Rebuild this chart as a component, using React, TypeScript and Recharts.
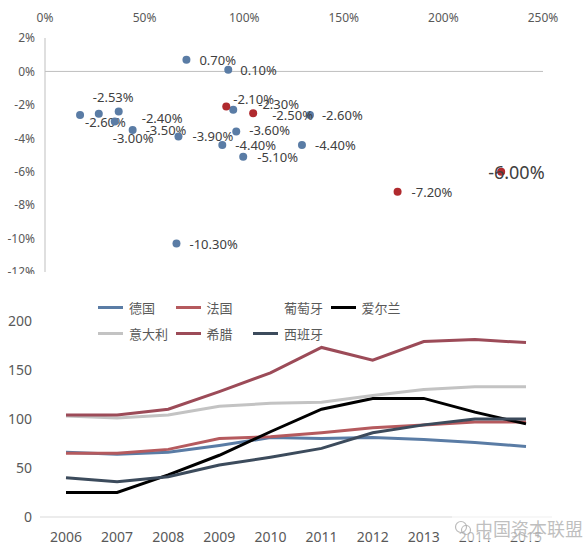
import * as React from 'react';
import {
  ScatterChart, Scatter, XAxis, YAxis, ReferenceLine,
  LineChart, Line,
} from 'recharts';

// scatter: x = share (%), y = value (%)
const blueX = [71, 92, 17.6, 27, 37, 35, 44, 67, 89, 96, 99.5, 94.5, 133, 129, 66];
const blueY = [0.7, 0.1, -2.6, -2.53, -2.4, -3.0, -3.5, -3.9, -4.4, -3.6, -5.1, -2.3, -2.6, -4.4, -10.3];
const redX = [91, 104.5, 177, 229];
const redY = [-2.1, -2.5, -7.2, -6.0];

const xTicks = [0, 50, 100, 150, 200, 250];
const yTicks = [2, 0, -2, -4, -6, -8, -10, -12];

// line chart
const years = ['2006', '2007', '2008', '2009', '2010', '2011', '2012', '2013', '2014', '2015'];
const germany = [66, 64, 66, 73, 81, 80, 81, 79, 76, 72];
const france = [65, 65, 69, 80, 82, 86, 91, 94, 97, 97];
const ireland = [25, 25, 43, 63, 87, 110, 121, 121, 107, 95];
const italy = [103, 101, 104, 113, 116, 117, 124, 130, 133, 133];
const greece = [104, 104, 110, 128, 147, 173, 160, 179, 181, 178];
const spain = [40, 36, 41, 53, 61, 70, 86, 94, 100, 100];
const lineTicks = [0, 50, 100, 150, 200];

const seriesNames = ['德国', '法国', '葡萄牙', '爱尔兰', '意大利', '希腊', '西班牙'];
const seriesColors = ['#5a7ca5', '#b55a5e', 'none', '#000000', '#c3c3c3', '#9c4b58', '#3c4b5c'];

// label nudges [dx, dy] relative to the dot
const blueNudge = [[13, 0], [12, 0], [5, 7], [-6, -17], [23, 6], [-2, 16], [13, 0], [14, -1], [13, 0], [13, -2], [14, 0], [25, -6], [12, 0], [13, 0], [13, 0]];
const redNudge = [[7, -8], [19, 2], [14, 0], [-13, 0]];

const blueData = blueX.map((x, i) => ({ x, y: blueY[i] }));
const redData = redX.map((x, i) => ({ x, y: redY[i] }));
const lineData = years.map((year, i) => ({
  year,
  德国: germany[i],
  法国: france[i],
  爱尔兰: ireland[i],
  意大利: italy[i],
  希腊: greece[i],
  西班牙: spain[i],
}));

const font = '"Noto Sans", "Noto Sans CJK SC", sans-serif';

function makeDot(color: string, nudge: number[][]) {
  return (props: any) => {
    const { cx, cy, index, payload } = props;
    const [dx, dy] = nudge[index] || [10, 0];
    const big = payload.y === -6;
    return (
      <g>
        <circle cx={cx} cy={cy} r={4} fill={color} />
        <text
          x={cx + dx}
          y={cy + dy}
          dominantBaseline="central"
          fontSize={big ? 18 : 13}
          fill="#404040"
          fontFamily={font}
        >
          {payload.y.toFixed(2) + '%'}
        </text>
      </g>
    );
  };
}

export default function App() {
  const tickStyle = { fontSize: 12, fill: '#595959', fontFamily: font };
  return (
    <div style={{ position: 'absolute', left: 0, top: 0, width: 586, height: 557, background: '#fff', overflow: 'hidden' }}>
      <div style={{ position: 'absolute', left: 0, top: 0 }}>
        <ScatterChart width={586} height={290} margin={{ top: 8, right: 43, bottom: 18, left: 0 }}>
          <XAxis
            type="number"
            dataKey="x"
            orientation="top"
            domain={[0, 250]}
            ticks={xTicks}
            height={30}
            axisLine={false}
            tickLine={false}
            tickSize={0}
            tickMargin={16}
            tick={tickStyle}
            tickFormatter={(v) => `${v}%`}
          />
          <YAxis
            type="number"
            dataKey="y"
            domain={[-12, 2]}
            ticks={yTicks}
            width={45}
            axisLine={{ stroke: '#bfbfbf' }}
            tickLine={false}
            tickSize={0}
            tickMargin={10}
            tick={tickStyle}
            tickFormatter={(v) => `${v}%`}
          />
          <ReferenceLine y={0} stroke="#bfbfbf" />
          <Scatter data={blueData} fill="#5a7ca5" shape={makeDot('#5a7ca5', blueNudge)} isAnimationActive={false} />
          <Scatter data={redData} fill="#b02a2e" shape={makeDot('#b02a2e', redNudge)} isAnimationActive={false} />
        </ScatterChart>
      </div>

      <div style={{ position: 'absolute', left: 0, top: 274, width: 586, height: 283, background: '#fff' }}>
        <LineChart width={586} height={283} data={lineData} margin={{ top: 47, right: 34, bottom: 10, left: 0 }}>
          <XAxis
            dataKey="year"
            height={30}
            padding={{ left: 26, right: 26 }}
            axisLine={{ stroke: '#d9d9d9' }}
            tickLine={false}
            tickSize={0}
            tickMargin={15}
            tick={{ fontSize: 14, fill: '#595959', fontFamily: font }}
          />
          <YAxis
            domain={[0, 200]}
            ticks={lineTicks}
            width={40}
            axisLine={false}
            tickLine={false}
            tickSize={0}
            tickMargin={8}
            tick={{ fontSize: 14, fill: '#595959', fontFamily: font }}
          />
          {seriesNames.map((name, i) =>
            seriesColors[i] === 'none' ? null : (
              <Line
                key={name}
                dataKey={name}
                stroke={seriesColors[i]}
                strokeWidth={3}
                dot={false}
                isAnimationActive={false}
              />
            )
          )}
        </LineChart>

        {seriesNames.map((name, i) => {
          const row = i < 4 ? 0 : 1;
          const col = i < 4 ? i : i - 4;
          return (
            <div
              key={name}
              style={{
                position: 'absolute',
                left: 98 + col * 77.5,
                top: 23 + row * 26,
                height: 20,
                display: 'flex',
                alignItems: 'center',
                fontFamily: '"Noto Sans CJK SC", sans-serif',
                fontSize: 13,
                color: '#595959',
              }}
            >
              <span
                style={{
                  display: 'inline-block',
                  width: 25,
                  height: 3,
                  background: seriesColors[i] === 'none' ? 'transparent' : seriesColors[i],
                  marginRight: 6,
                }}
              />
              {name}
            </div>
          );
        })}

        <div
          style={{
            position: 'absolute',
            left: 452,
            top: 241,
            display: 'flex',
            alignItems: 'center',
            fontFamily: '"Noto Sans CJK SC", sans-serif',
            fontSize: 18,
            color: 'rgba(170,170,170,0.75)',
            background: 'rgba(255,255,255,0.6)',
            padding: '0 2px',
          }}
        >
          <svg width={18} height={16} style={{ marginRight: 3 }}>
            <circle cx={7} cy={7} r={5.5} fill="none" stroke="rgba(170,170,170,0.8)" strokeWidth={1.2} />
            <circle cx={12} cy={10} r={4.5} fill="none" stroke="rgba(170,170,170,0.8)" strokeWidth={1.2} />
          </svg>
          中国资本联盟
        </div>
      </div>
    </div>
  );
}
